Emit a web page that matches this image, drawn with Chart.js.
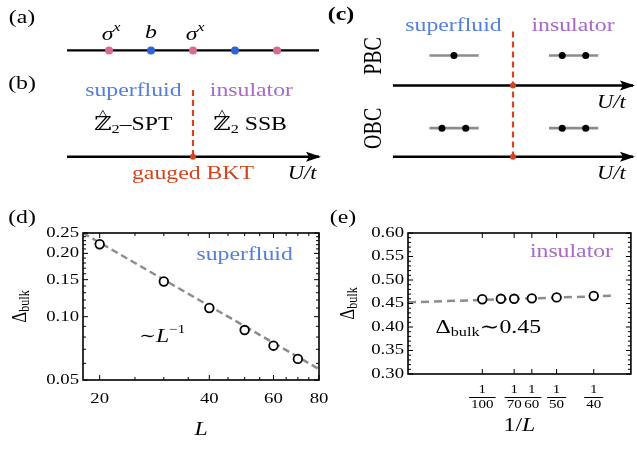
<!DOCTYPE html>
<html>
<head>
<meta charset="utf-8">
<script src="https://cdn.jsdelivr.net/npm/chart.js@4.4.1/dist/chart.umd.min.js"></script>
<style>
  html, body { margin: 0; padding: 0; background: #fff; }
  #fig { position: relative; width: 637px; height: 452px; }
  #fig canvas { position: absolute; left: 0; top: 0; }
</style>
</head>
<body>
<div id="fig">
  <canvas id="cvAB" width="637" height="452"></canvas>
  <canvas id="cvC" width="637" height="452"></canvas>
  <canvas id="cvD" width="637" height="452"></canvas>
  <canvas id="cvE" width="637" height="452"></canvas>
</div>
<script>
// --- (a) chain: spins and bosons alternate ---
var chainSites = [1, 2, 3, 4, 5];
var siteKinds = ['spin', 'boson', 'spin', 'boson', 'spin'];
var chainEnds = [0, 6];
// --- (b) phase line, BKT point under the middle spin ---
var phaseAxis = [0, 6];
var bktPoint = 3;
// --- (c) ground-state sketches along U/t ---
var cAxis = [0, 1];
var cTransition = 0.5;
var superfluidBand = [0.152, 0.357];
var insulatorBand = [0.65, 0.855];
var pbcSuperfluid = [0.254];
var pbcInsulator = [0.705, 0.803];
var obcSuperfluid = [0.204, 0.303];
var obcInsulator = [0.705, 0.803];
// --- (d) superfluid gap vs L ---
var sizesD = [20, 30, 40, 50, 60, 70];
var gapD = [0.221, 0.147, 0.110, 0.0864, 0.0728, 0.063];
var fitD_L = [18, 80];
var fitD_gap = [0.25, 0.0563];
var ticksD_x = [20, 40, 60, 80];
var minorD_x = [25, 30, 35, 45, 50, 55, 65, 70, 75];
var ticksD_y = [0.05, 0.10, 0.15, 0.20, 0.25];
var tickLabelsD_y = ['0.05', '0.10', '0.15', '0.20', '0.25'];
var minorD_y = [0.06, 0.07, 0.08, 0.09, 0.11, 0.12, 0.13, 0.14, 0.16, 0.17, 0.18, 0.19, 0.21, 0.22, 0.23, 0.24];
// --- (e) insulator gap vs 1/L ---
var sizesE = [100, 80, 70, 60, 50, 40];
var gapE = [0.459, 0.460, 0.460, 0.461, 0.463, 0.466];
var fitE_invL = [0, 0.0275];
var fitE_gap = [0.4525, 0.4665];
var ticksE_L = [100, 70, 60, 50, 40];
var ticksE_y = [0.30, 0.35, 0.40, 0.45, 0.50, 0.55, 0.60];
var tickLabelsE_y = ['0.30', '0.35', '0.40', '0.45', '0.50', '0.55', '0.60'];
var minorE_y = [0.31, 0.32, 0.33, 0.34, 0.36, 0.37, 0.38, 0.39, 0.41, 0.42, 0.43, 0.44,
                0.46, 0.47, 0.48, 0.49, 0.51, 0.52, 0.53, 0.54, 0.56, 0.57, 0.58, 0.59];

// rows of the sketches (y units, 0 at top)
var ROW = { chain: 2.43, phase: 4.56, order: 6.33, axis: 8.0, axisText: 8.9, dashTop: 4.5,
            cTitle: 1.16, cDashTop: 1.44, pbcBand: 2.7, pbcAxis: 4.27, pbcText: 5.2, obcBand: 6.5, obcAxis: 8.0, obcText: 8.9 };

var SX = 1.25; // figure glyphs run wide
var SERIF = '"Liberation Serif", "DejaVu Serif", serif';
var BLUE = '#5480dc', PURPLE = '#a869c9', RED = '#d2451e', PINK = '#d86b93', DOT_BLUE = '#2f63d6', GREY = '#8c8c8c';

function part(t, size, style, dy, color) {
  return { t: t, font: (style || '') + ' ' + size + 'px ' + SERIF, dy: dy || 0, color: color };
}
function hat(size, dy) {
  var p = part('^', size, '', dy);
  p.over = true;
  return p;
}

function drawText(ctx, x, y, parts, align, rotate, color) {
  ctx.save();
  ctx.translate(x, y);
  ctx.scale(SX, 1);
  if (rotate) ctx.rotate(rotate);
  ctx.textBaseline = 'middle';
  ctx.textAlign = 'left';
  var total = 0;
  parts.forEach(function(p) {
    ctx.font = p.font;
    p.w = ctx.measureText(p.t).width;
    if (!p.over) total += p.w;
  });
  var cx = align === 'center' ? -total / 2 : (align === 'right' ? -total : 0);
  var prev = null;
  parts.forEach(function(p) {
    ctx.font = p.font;
    ctx.fillStyle = p.color || color || '#000';
    if (p.over && prev) {
      ctx.fillText(p.t, prev.x + prev.w / 2 - p.w / 2, p.dy);
      return;
    }
    ctx.fillText(p.t, cx, p.dy);
    prev = { x: cx, w: p.w };
    cx += p.w;
  });
  ctx.restore();
}

function pts(xs, y) { return xs.map(function(x) { return { x: x, y: y }; }); }
function pairs(xs, ys) { return xs.map(function(x, i) { return { x: x, y: ys[i] }; }); }

// text placed in data units (x, y) or page pixels (px, py)
function notesPlugin(notes) {
  return {
    id: 'notes',
    afterDraw: function(chart) {
      var ctx = chart.ctx;
      notes.forEach(function(n) {
        var x = n.px !== undefined ? n.px : chart.scales.x.getPixelForValue(n.x);
        var y = n.py !== undefined ? n.py : chart.scales.y.getPixelForValue(n.y);
        drawText(ctx, x, y, n.parts, n.align || 'center', n.rotate, n.color);
      });
    }
  };
}

var arrowHeads = {
  id: 'arrowHeads',
  afterDatasetsDraw: function(chart) {
    var ctx = chart.ctx;
    chart.data.datasets.forEach(function(ds, i) {
      if (!ds.arrow) return;
      var els = chart.getDatasetMeta(i).data;
      var p0 = els[els.length - 2], p1 = els[els.length - 1];
      var ang = Math.atan2(p1.y - p0.y, p1.x - p0.x);
      ctx.save();
      ctx.translate(p1.x, p1.y);
      ctx.rotate(ang);
      ctx.beginPath();
      ctx.moveTo(2, 0);
      ctx.lineTo(-13, -5);
      ctx.lineTo(-10, 0);
      ctx.lineTo(-13, 5);
      ctx.closePath();
      ctx.fillStyle = '#000';
      ctx.fill();
      ctx.restore();
    });
  }
};

function lineSet(data, color, width, dash, extra) {
  var ds = { data: data, showLine: true, pointRadius: 0, borderColor: color, borderWidth: width,
             borderDash: dash || [], clip: false };
  for (var k in extra) ds[k] = extra[k];
  return ds;
}
function dotSet(data, colors, radius) {
  return { data: data, showLine: false, pointRadius: radius, pointBorderWidth: 0,
           pointBackgroundColor: colors, backgroundColor: colors, borderColor: colors, clip: false };
}

function sketch(id, xMin, xMax, pad, datasets, notes) {
  return new Chart(document.getElementById(id), {
    type: 'scatter',
    data: { datasets: datasets },
    options: {
      responsive: false, animation: false, events: [],
      layout: { padding: pad },
      scales: {
        x: { type: 'linear', display: false, min: xMin, max: xMax },
        y: { type: 'linear', display: false, min: 0, max: 10, reverse: true }
      },
      plugins: { legend: { display: false }, tooltip: { enabled: false } }
    },
    plugins: [arrowHeads, notesPlugin(notes)]
  });
}

// --- panels (a) and (b) ---
var siteColors = siteKinds.map(function(k) { return k === 'spin' ? PINK : DOT_BLUE; });
sketch('cvAB', chainEnds[0], chainEnds[1], { left: 67, right: 318, top: 0, bottom: 257 }, [
  dotSet([{ x: bktPoint, y: ROW.axis }], RED, 3),
  dotSet(pts(chainSites, ROW.chain), siteColors, 4),
  lineSet([{ x: bktPoint, y: ROW.dashTop }, { x: bktPoint, y: ROW.axis }], RED, 2.2, [6, 4]),
  lineSet(pts(phaseAxis, ROW.axis), '#000', 2.4, [], { arrow: true }),
  lineSet(pts(chainEnds, ROW.chain), '#000', 2.4)
], [
  { px: 22, py: 18, parts: [part('(a)', 19)] },
  { px: 22, py: 84, parts: [part('(b)', 19)] },
  { x: 1.05, y: 1.6, parts: [part('σ', 19, 'italic'), part('x', 13, 'italic', -7)] },
  { x: 2, y: 1.5, parts: [part('b', 19, 'italic')] },
  { x: 3.05, y: 1.6, parts: [part('σ', 19, 'italic'), part('x', 13, 'italic', -7)] },
  { x: 1.58, y: ROW.phase, parts: [part('superfluid', 19)], color: BLUE },
  { x: 4.39, y: ROW.phase, parts: [part('insulator', 19)], color: PURPLE },
  { x: 1.58, y: ROW.order, parts: [part('ℤ', 19), hat(13, -10), part('2', 13, '', 5), part('–SPT', 19)] },
  { x: 4.36, y: ROW.order, parts: [part('ℤ', 19), hat(13, -10), part('2', 13, '', 5), part(' SSB', 19)] },
  { x: bktPoint, y: ROW.axisText, parts: [part('gauged BKT', 19)], color: RED },
  { x: 5.6, y: ROW.axisText, parts: [part('U/t', 18, 'italic')] }
]);

// --- panel (c) ---
sketch('cvC', cAxis[0], cAxis[1], { left: 393, right: 0, top: 0, bottom: 257 }, [
  dotSet([{ x: cTransition, y: ROW.pbcAxis }, { x: cTransition, y: ROW.obcAxis }], RED, 3),
  dotSet(pts(pbcSuperfluid, ROW.pbcBand).concat(pts(pbcInsulator, ROW.pbcBand),
         pts(obcSuperfluid, ROW.obcBand), pts(obcInsulator, ROW.obcBand)), '#000', 3.5),
  lineSet(pts(superfluidBand, ROW.pbcBand), GREY, 2.6),
  lineSet(pts(insulatorBand, ROW.pbcBand), GREY, 2.6),
  lineSet(pts(superfluidBand, ROW.obcBand), GREY, 2.6),
  lineSet(pts(insulatorBand, ROW.obcBand), GREY, 2.6),
  lineSet([{ x: cTransition, y: ROW.cDashTop }, { x: cTransition, y: ROW.obcAxis }], RED, 2.2, [6, 4]),
  lineSet(pts(cAxis, ROW.pbcAxis), '#000', 2.4, [], { arrow: true }),
  lineSet(pts(cAxis, ROW.obcAxis), '#000', 2.4, [], { arrow: true })
], [
  { px: 341, py: 15, parts: [part('(c)', 19, 'bold')] },
  { x: 0.252, y: ROW.cTitle, parts: [part('superfluid', 19)], color: BLUE },
  { x: 0.75, y: ROW.cTitle, parts: [part('insulator', 19)], color: PURPLE },
  { x: -0.078, y: 2.72, parts: [part('PBC', 20)], rotate: -Math.PI / 2 },
  { x: -0.078, y: 6.51, parts: [part('OBC', 20)], rotate: -Math.PI / 2 },
  { x: 0.91, y: ROW.pbcText, parts: [part('U/t', 18, 'italic')] },
  { x: 0.91, y: ROW.obcText, parts: [part('U/t', 18, 'italic')] }
]);

// frame with inward ticks on all four sides, Mathematica style
function framePlugin(cfg) {
  return {
    id: 'frame',
    afterDraw: function(chart) {
      var ctx = chart.ctx, a = chart.chartArea, sx = chart.scales.x, sy = chart.scales.y;
      ctx.save();
      ctx.strokeStyle = '#000';
      ctx.lineWidth = 1;
      ctx.beginPath();
      function xt(v, len) {
        var p = sx.getPixelForValue(v);
        ctx.moveTo(p, a.bottom); ctx.lineTo(p, a.bottom - len);
        ctx.moveTo(p, a.top); ctx.lineTo(p, a.top + len);
      }
      function yt(v, len) {
        var p = sy.getPixelForValue(v);
        ctx.moveTo(a.left, p); ctx.lineTo(a.left + len, p);
        ctx.moveTo(a.right, p); ctx.lineTo(a.right - len, p);
      }
      cfg.xMajor.forEach(function(v) { xt(v, 5); });
      cfg.xMinor.forEach(function(v) { xt(v, 3); });
      cfg.yMajor.forEach(function(v) { yt(v, 5); });
      cfg.yMinor.forEach(function(v) { yt(v, 3); });
      ctx.stroke();
      ctx.lineWidth = 1.6;
      ctx.strokeRect(a.left, a.top, a.right - a.left, a.bottom - a.top);
      cfg.xMajor.forEach(function(v, i) { cfg.xLabel(ctx, i, sx.getPixelForValue(v), a.bottom); });
      cfg.yMajor.forEach(function(v, i) {
        drawText(ctx, a.left - 4, sy.getPixelForValue(v), [part(cfg.yLabels[i], 15)], 'right');
      });
      var cxm = (a.left + a.right) / 2, cym = (a.top + a.bottom) / 2;
      drawText(ctx, cxm, a.bottom + cfg.xTitleGap, cfg.xTitle, 'center');
      drawText(ctx, a.left - cfg.yTitleGap, cym, [part('Δ', 17), part('bulk', 12, '', 4)], 'center', -Math.PI / 2);
      ctx.restore();
    }
  };
}

function plotOptions(xScale, yScale, pad) {
  return {
    responsive: false, animation: false, events: [],
    layout: { padding: pad },
    scales: { x: xScale, y: yScale },
    plugins: { legend: { display: false }, tooltip: { enabled: false } }
  };
}

// --- panel (d) ---
new Chart(document.getElementById('cvD'), {
  type: 'scatter',
  data: { datasets: [
    { data: pairs(sizesD, gapD), pointRadius: 4.3, pointBorderWidth: 1.8,
      pointBorderColor: '#000', pointBackgroundColor: '#fff', borderColor: '#000', backgroundColor: '#fff' },
    lineSet(pairs(fitD_L, fitD_gap), GREY, 2.5, [7, 4], { clip: 0 })
  ]},
  options: plotOptions(
    { type: 'logarithmic', display: false, min: 18, max: 80 },
    { type: 'logarithmic', display: false, min: 0.05, max: 0.25 },
    { left: 83, top: 233, right: 318, bottom: 72 }),
  plugins: [framePlugin({
    xMajor: ticksD_x, xMinor: minorD_x, yMajor: ticksD_y, yMinor: minorD_y, yLabels: tickLabelsD_y,
    xLabel: function(ctx, i, px, bottom) { drawText(ctx, px, bottom + 19, [part(String(ticksD_x[i]), 15)], 'center'); },
    xTitle: [part('L', 19, 'italic')], xTitleGap: 50, yTitleGap: 63
  }), notesPlugin([
    { px: 22, py: 218, parts: [part('(d)', 19)] },
    { x: 50, y: 0.196, parts: [part('superfluid', 19)], color: BLUE },
    { x: 29.7, y: 0.080, parts: [part('∼', 16), part('L', 19, 'italic'), part('−1', 12, '', -7)] }
  ])]
});

// --- panel (e) ---
new Chart(document.getElementById('cvE'), {
  type: 'scatter',
  data: { datasets: [
    { data: pairs(sizesE.map(function(L) { return 1 / L; }), gapE), pointRadius: 4.3, pointBorderWidth: 1.8,
      pointBorderColor: '#000', pointBackgroundColor: '#fff', borderColor: '#000', backgroundColor: '#fff' },
    lineSet(pairs(fitE_invL, fitE_gap), GREY, 2.5, [8, 5], { clip: 0 })
  ]},
  options: plotOptions(
    { type: 'linear', display: false, min: 0, max: 0.03 },
    { type: 'linear', display: false, min: 0.30, max: 0.60 },
    { left: 408, top: 233, right: 1, bottom: 78 }),
  plugins: [framePlugin({
    xMajor: ticksE_L.map(function(L) { return 1 / L; }), xMinor: [], yMajor: ticksE_y, yMinor: minorE_y, yLabels: tickLabelsE_y,
    xLabel: function(ctx, i, px, bottom) {
      var den = String(ticksE_L[i]);
      drawText(ctx, px, bottom + 16, [part('1', 12)], 'center');
      ctx.font = '12px ' + SERIF;
      var w = ctx.measureText(den).width * SX + 4;
      ctx.fillStyle = '#000';
      ctx.fillRect(px - w / 2, bottom + 23, w, 1);
      drawText(ctx, px, bottom + 31, [part(den, 12)], 'center');
    },
    xTitle: [part('1/', 19), part('L', 19, 'italic')], xTitleGap: 52, yTitleGap: 60
  }), notesPlugin([
    { px: 343, py: 218, parts: [part('(e)', 19)] },
    { x: 0.022, y: 0.56, parts: [part('insulator', 19)], color: PURPLE },
    { x: 0.0108, y: 0.398, parts: [part('Δ', 19), part('bulk', 13, '', 5), part('∼0.45', 19)] }
  ])]
});
</script>
</body>
</html>
